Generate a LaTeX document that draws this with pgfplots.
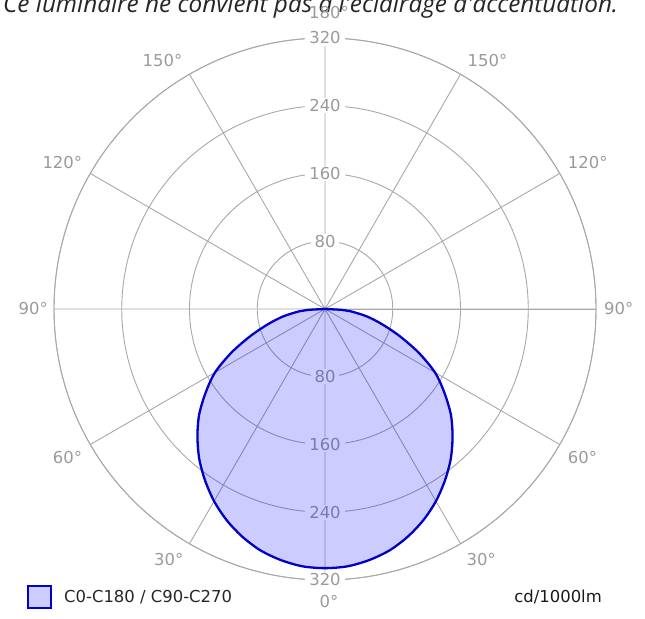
\documentclass[border=0pt]{standalone}
\usepackage{pgfplots}
\pgfplotsset{compat=1.18}
\usepgfplotslibrary{polar}
\usepackage{fontspec}
\setmainfont{DejaVu Sans}
\newfontfamily\titlefont{Open Sans}
\definecolor{gridgray}{HTML}{A8A8A8}
\definecolor{labgray}{HTML}{9A9A9A}
\definecolor{curveblue}{HTML}{0000C8}
\definecolor{fillblue}{HTML}{CCCCFF}

\begin{document}
\begin{tikzpicture}[x=1bp,y=1bp,
  rlab/.style={font=\fontsize{16.5}{19}\selectfont, text=labgray, fill=white, inner xsep=4bp, inner ysep=1.5bp},
  alab/.style={font=\fontsize{16.5}{19}\selectfont, text=labgray, inner sep=0pt}]
\useasboundingbox (0,0) rectangle (645,619);
\clip (0,0) rectangle (645,619);

% title, cut by the top edge as in the original
\node[anchor=base west, inner sep=0pt, text=black!85] at (3,606)
  {\resizebox{615bp}{!}{\titlefont\itshape Ce luminaire ne convient pas à l'éclairage d'accentuation.}};

\begin{polaraxis}[
  at={(325bp,310bp)}, anchor=center,
  scale only axis, width=542bp, height=542bp,
  ymin=0, ymax=320,
  xtick={0,30,...,330}, ytick={80,160,240,320},
  xticklabel=\empty, yticklabel=\empty,
  major tick length=0pt,
  grid=major,
  major grid style={draw=gridgray, line width=0.9bp},
  axis line style={draw=gridgray, line width=0.9bp},
  clip=false,
]
% radial values
\node[rlab] at (axis cs:90,80) {80};
\node[rlab] at (axis cs:90,160) {160};
\node[rlab] at (axis cs:90,240) {240};
\node[rlab] at (axis cs:90,320) {320};
\node[rlab] at (axis cs:270,80) {80};
\node[rlab] at (axis cs:270,160) {160};
\node[rlab] at (axis cs:270,240) {240};
\node[rlab] at (axis cs:270,320) {320};
% angles (gamma measured from nadir)
\node[alab, anchor=base, xshift=4bp, yshift=19.5bp] at (axis cs:90,320) {180°};
\node[alab, anchor=south west, xshift=7bp, yshift=7bp] at (axis cs:60,320) {150°};
\node[alab, anchor=south east, xshift=-7bp, yshift=7bp] at (axis cs:120,320) {150°};
\node[alab, anchor=south west, xshift=8bp, yshift=5bp] at (axis cs:30,320) {120°};
\node[alab, anchor=south east, xshift=-8bp, yshift=5bp] at (axis cs:150,320) {120°};
\node[alab, anchor=west, xshift=8bp] at (axis cs:0,320) {90°};
\node[alab, anchor=east, xshift=-6bp] at (axis cs:180,320) {90°};
\node[alab, anchor=north west, xshift=8bp, yshift=-7bp] at (axis cs:330,320) {60°};
\node[alab, anchor=north east, xshift=-8bp, yshift=-7bp] at (axis cs:210,320) {60°};
\node[alab, anchor=north west, xshift=6bp, yshift=-9bp] at (axis cs:300,320) {30°};
\node[alab, anchor=north east, xshift=-6bp, yshift=-9bp] at (axis cs:240,320) {30°};
\node[alab, anchor=north, xshift=4bp, yshift=-15bp] at (axis cs:270,320) {0°};

% C0-C180 / C90-C270, polar angle 270 = nadir
\addplot[draw=curveblue, line width=2.3bp, fill=blue, fill opacity=0.2, smooth] coordinates {
(180,0) (183,20) (185,30) (190,50) (195,70) (200,94) (205,122) (210,150)
(215,172) (220,194) (225,213) (230,231) (235,247) (240,262) (245,275)
(250,286) (255,295) (260,301) (265,305) (270,306) (275,305) (280,301)
(285,295) (290,286) (295,275) (300,262) (305,247) (310,231) (315,213)
(320,194) (325,172) (330,150) (335,122) (340,94) (345,70) (350,50)
(355,30) (357,20) (360,0)
};
\end{polaraxis}

% legend and unit
\draw[curveblue, line width=2.3bp, fill=fillblue] (28,11) rectangle (51,33);
\node[anchor=west, inner sep=0pt, text=black!85, font=\fontsize{16.5}{19}\selectfont] at (64,22) {C0-C180 / C90-C270};
\node[anchor=east, inner sep=0pt, text=black!90, font=\fontsize{16.5}{19}\selectfont] at (602,22) {cd/1000lm};
\end{tikzpicture}
\end{document}
